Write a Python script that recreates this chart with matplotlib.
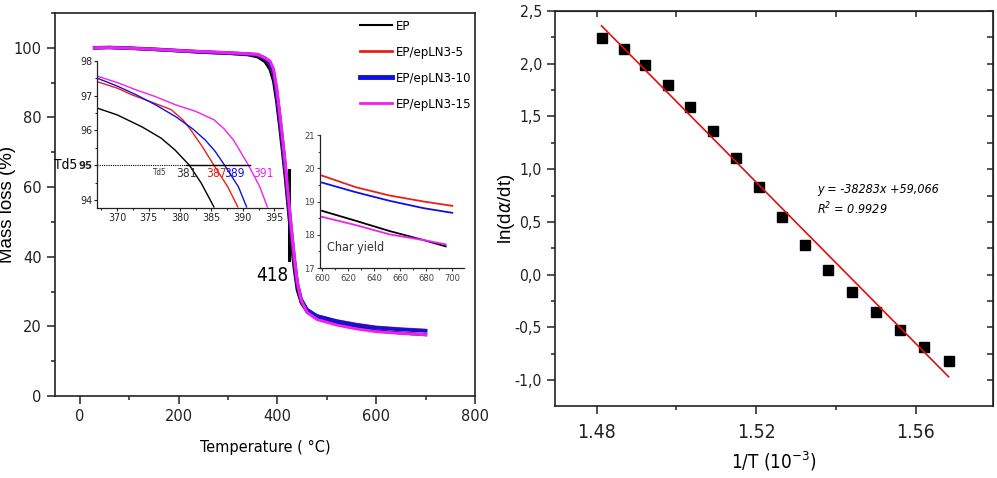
import matplotlib
matplotlib.use('Agg')
import numpy as np
import matplotlib.pyplot as plt
from matplotlib import font_manager as fm
from matplotlib.ticker import MultipleLocator, FuncFormatter

# pick a narrow face if one is installed
names = {f.name for f in fm.fontManager.ttflist}
dejavu_cond = any(f.name == 'DejaVu Sans' and 'ondensed' in str(f.stretch) + f.fname
                  for f in fm.fontManager.ttflist)
if 'Liberation Sans Narrow' in names:
    NARROW, STRETCH, SC = ['Liberation Sans Narrow', 'DejaVu Sans'], 'normal', 1.0
elif dejavu_cond:
    NARROW, STRETCH, SC = ['DejaVu Sans'], 'condensed', 0.9
else:
    NARROW, STRETCH, SC = ['Liberation Sans', 'DejaVu Sans'], 'normal', 0.82
REG = ['Liberation Sans', 'DejaVu Sans']
plt.rcParams['font.family'] = NARROW
plt.rcParams['font.stretch'] = STRETCH
plt.rcParams['axes.edgecolor'] = '#222222'
plt.rcParams['xtick.color'] = '#222222'
plt.rcParams['ytick.color'] = '#222222'

# ---- TGA main curves ----
temp = [30, 60, 100, 150, 200, 250, 300, 340, 360, 375, 385, 392, 398, 404,
        410, 416, 422, 428, 434, 440, 448, 460, 480, 520, 560, 600, 650, 700]
mass_ep = [100.0, 100.1, 99.9, 99.5, 99.1, 98.7, 98.4, 98.0, 97.4, 96.0, 93.8, 90.5, 85.0, 78.0,
           70.5, 62.5, 53.5, 44.5, 36.5, 30.5, 26.8, 24.2, 22.5, 20.9, 19.8, 18.7, 18.1, 17.6]
mass_ep5 = [100.0, 100.1, 99.9, 99.6, 99.2, 98.8, 98.5, 98.2, 97.9, 96.9, 95.1, 92.3, 87.0, 80.0,
            72.5, 64.5, 55.5, 46.5, 38.5, 32.0, 27.5, 24.8, 23.0, 21.6, 20.6, 19.8, 19.3, 18.9]
mass_ep10 = [100.0, 100.1, 99.9, 99.6, 99.2, 98.8, 98.5, 98.2, 98.0, 97.0, 95.5, 93.0, 88.0, 81.0,
             73.5, 65.5, 56.5, 47.5, 39.5, 32.5, 27.8, 24.8, 23.0, 21.5, 20.4, 19.6, 19.1, 18.7]
mass_ep15 = [100.0, 100.1, 99.9, 99.6, 99.2, 98.9, 98.6, 98.3, 98.1, 97.1, 96.2, 94.0, 89.0, 82.0,
             74.5, 66.5, 57.5, 48.5, 40.0, 33.0, 27.5, 24.0, 22.0, 20.4, 19.3, 18.5, 18.0, 17.6]
labels = ['EP', 'EP/epLN3-5', 'EP/epLN3-10', 'EP/epLN3-15']
colors = ['black', '#e8201c', '#1010e0', '#f020f0']

# ---- inset 1: Td5 zoom ----
t1_ep = [366.9, 370, 374.0, 377, 379.2, 381.5, 383.4, 385.4]
m1_ep = [96.64, 96.45, 96.10, 95.78, 95.44, 95.0, 94.48, 93.8]
t1_ep5 = [366.9, 370, 372.3, 375, 378.6, 380.5, 381.7, 383.5, 385.4, 387.6, 389.2]
m1_ep5 = [97.40, 97.22, 97.03, 96.85, 96.6, 96.3, 96.02, 95.55, 95.0, 94.38, 93.8]
t1_ep10 = [366.9, 370, 373.0, 376, 379.3, 382, 384.0, 385.6, 387.1, 389.3, 390.6]
m1_ep10 = [97.50, 97.28, 97.03, 96.75, 96.40, 96.05, 95.73, 95.40, 95.0, 94.38, 93.8]
t1_ep15 = [366.9, 370, 373.0, 376, 379.3, 382.5, 385.4, 387.0, 388.5, 390.9, 392.7, 393.9]
m1_ep15 = [97.56, 97.38, 97.17, 96.98, 96.74, 96.55, 96.31, 96.05, 95.73, 95.0, 94.38, 93.8]
td5_level = 95
td5_vals = [381, 387, 389, 391]

# ---- inset 2: char yield ----
t2_a = [600, 626, 652, 678, 700]
t2_b = [600, 626, 652, 678, 695]
c_ep = [18.72, 18.42, 18.11, 17.84, 17.65]
c_ep5 = [19.78, 19.43, 19.18, 19.00, 18.87]
c_ep10 = [19.57, 19.28, 19.02, 18.80, 18.66]
c_ep15 = [18.54, 18.29, 18.01, 17.84, 17.71]

# ---- Arrhenius plot ----
inv_t = [1.48125, 1.48683, 1.49225, 1.49792, 1.5035, 1.50917, 1.51483, 1.52067,
         1.52642, 1.53225, 1.53808, 1.544, 1.55, 1.55608, 1.56208, 1.56817]
ln_rate = [2.247, 2.137, 1.991, 1.802, 1.590, 1.363, 1.110, 0.832,
           0.548, 0.280, 0.043, -0.169, -0.352, -0.526, -0.684, -0.820]
fit_slope = -38.283
fit_icpt = 59.066

fig = plt.figure(figsize=(9.97, 4.78), dpi=100)

# left main axes
ax = fig.add_axes([0.0552, 0.1715, 0.4213, 0.8013])
series = [mass_ep, mass_ep5, mass_ep10, mass_ep15]
widths = [2.2, 2.2, 2.6, 2.2]
for m, c, l, w in zip(series, colors, labels, widths):
    ax.plot(temp, m, color=c, lw=w, label=l, zorder=3)
ax.set_xlim(-50, 800)
ax.set_ylim(0, 110)
ax.xaxis.set_major_locator(MultipleLocator(200))
ax.xaxis.set_minor_locator(MultipleLocator(100))
ax.yaxis.set_major_locator(MultipleLocator(20))
ax.yaxis.set_minor_locator(MultipleLocator(10))
ax.tick_params(which='both', direction='out', labelsize=13 * SC)
ax.tick_params(which='major', length=6, width=1.1)
ax.tick_params(which='minor', length=3, width=1.1)
for s in ax.spines.values():
    s.set_linewidth(1.2)
ax.set_xlabel('Temperature ( °C)', fontsize=13 * SC)
ax.xaxis.set_label_coords(0.5, -0.115)
ax.set_ylabel('Mass loss (%)', fontsize=13.5, family=REG, stretch='normal')
ax.yaxis.set_label_coords(-0.094, 0.5)

leg = ax.legend(loc='upper left', bbox_to_anchor=(353 / 997, 1 - 13 / 478),
                bbox_transform=fig.transFigure, frameon=False, fontsize=10.5 * SC,
                handlelength=2.5, handletextpad=0.3, labelspacing=1.0, borderpad=0)
for h, w in zip(leg.get_lines(), [1.5, 2, 3.5, 2]):
    h.set_linewidth(w)

# Tmax marker
ax.plot([424, 424], [39.2, 64.8], color='black', lw=2.2)
ax.text(422, 34.5, '418', fontsize=15 * SC, ha='right', va='center')

# inset 1
ax1 = fig.add_axes([0.0973, 0.5649, 0.1866, 0.3075])
ax1.patch.set_alpha(0)
for t, m, c in zip([t1_ep, t1_ep5, t1_ep10, t1_ep15], [m1_ep, m1_ep5, m1_ep10, m1_ep15], colors):
    ax1.plot(t, m, color=c, lw=1.0)
ax1.set_xlim(366.8, 396.4)
ax1.set_ylim(93.77, 98)
ax1.plot([366.8, td5_vals[0]], [td5_level, td5_level], color='black', lw=0.8, ls=(0, (1, 1)))
ax1.plot([td5_vals[0], 391.1], [td5_level, td5_level], color='black', lw=1.0)
ax1.text(376.7, 94.8, 'Td5', fontsize=6.5 * SC, ha='center', va='center', color='#333333')
for v, c, xo in zip(td5_vals, ['#333333'] + colors[1:], [-1.6, -2.9, -1.9, 0.7]):
    ax1.text(v + xo, 94.75, str(v), fontsize=9.5 * SC, color=c, ha='left', va='center')
ax1.text(-0.23, 95, 'Td5', transform=ax1.get_yaxis_transform(), fontsize=11 * SC,
         ha='left', va='center')
for side in ['top', 'right']:
    ax1.spines[side].set_visible(False)
ax1.xaxis.set_major_locator(MultipleLocator(5))
ax1.xaxis.set_minor_locator(MultipleLocator(2.5))
ax1.yaxis.set_major_locator(MultipleLocator(1))
ax1.yaxis.set_minor_locator(MultipleLocator(0.5))
ax1.tick_params(which='both', direction='out', labelsize=8.5 * SC, width=0.8, pad=1)
ax1.tick_params(which='major', length=2.5)
ax1.tick_params(which='minor', length=1.5)
for s in ax1.spines.values():
    s.set_linewidth(0.9)
fig.canvas.draw()
for lab in ax1.get_yticklabels():
    if lab.get_text() == '95':
        lab.set_fontweight('bold')
        lab.set_fontsize(9 * SC)

# inset 2
ax2 = fig.add_axes([0.321, 0.4393, 0.1444, 0.2782])
ax2.patch.set_alpha(0)
ax2.plot(t2_a, c_ep5, color=colors[1], lw=1.3)
ax2.plot(t2_a, c_ep10, color=colors[2], lw=1.3)
ax2.plot(t2_b, c_ep, color=colors[0], lw=1.3)
ax2.plot(t2_b, c_ep15, color=colors[3], lw=1.3)
ax2.set_xlim(598.5, 709)
ax2.set_ylim(17, 21)
ax2.text(604, 17.63, 'Char yield', fontsize=10 * SC, ha='left', va='center', color='#333333')
for side in ['top', 'right']:
    ax2.spines[side].set_visible(False)
ax2.xaxis.set_major_locator(MultipleLocator(20))
ax2.xaxis.set_minor_locator(MultipleLocator(10))
ax2.yaxis.set_major_locator(MultipleLocator(1))
ax2.yaxis.set_minor_locator(MultipleLocator(0.5))
ax2.tick_params(which='both', direction='out', labelsize=7.5 * SC, width=0.8, pad=1.5,
                colors='#444444')
ax2.tick_params(which='major', length=2.5)
ax2.tick_params(which='minor', length=1.2)
for s in ax2.spines.values():
    s.set_linewidth(0.9)

# right: ln(da/dt) vs 1/T
bx = fig.add_axes([0.5567, 0.1506, 0.4393, 0.8264])
bx.plot(inv_t, ln_rate, 's', color='black', ms=7.2)
fx = np.array([min(inv_t), max(inv_t)])
bx.plot(fx, fit_slope * fx + fit_icpt, color='#e01010', lw=1.2)
bx.set_xlim(1.4696, 1.5793)
bx.set_ylim(-1.246, 2.5)
bx.xaxis.set_major_locator(MultipleLocator(0.04))
bx.xaxis.set_minor_locator(MultipleLocator(0.02))
bx.yaxis.set_major_locator(MultipleLocator(0.5))
bx.yaxis.set_minor_locator(MultipleLocator(0.25))
bx.xaxis.set_major_formatter(FuncFormatter(lambda v, p: f'{v:.2f}'))
bx.yaxis.set_major_formatter(FuncFormatter(lambda v, p: f'{v:.1f}'.replace('.', ',')))
bx.tick_params(axis='x', which='both', direction='out', labelsize=15.5 * SC, pad=6)
bx.tick_params(axis='y', which='both', direction='out', labelsize=12.5 * SC)
bx.tick_params(which='major', length=6, width=1.1)
bx.tick_params(which='minor', length=3, width=1.1)
for s in bx.spines.values():
    s.set_linewidth(1.2)
top = bx.secondary_xaxis('top')
top.xaxis.set_major_locator(MultipleLocator(0.02))
top.tick_params(direction='in', length=4, width=1.1, labeltop=False)
right = bx.secondary_yaxis('right')
right.yaxis.set_major_locator(MultipleLocator(0.25))
right.tick_params(direction='in', length=4, width=1.1, labelright=False)
bx.set_xlabel('1/T (10$^{\\mathregular{-3}}$)', fontsize=15 * SC)
bx.xaxis.set_label_coords(0.5, -0.11)
bx.set_ylabel(r'ln(d$\alpha$/dt)', fontsize=13.5, family=REG, stretch='normal')
bx.yaxis.set_label_coords(-0.087, 0.5)
bx.text(1.5353, 0.81, 'y = -38283x +59,066', fontsize=10 * SC, style='italic', ha='left', va='center')
bx.text(1.5353, 0.627, 'R$^{\\mathregular{2}}$ = 0.9929', fontsize=10 * SC, style='italic',
        ha='left', va='center')

fig.savefig('out.png', dpi=100)
